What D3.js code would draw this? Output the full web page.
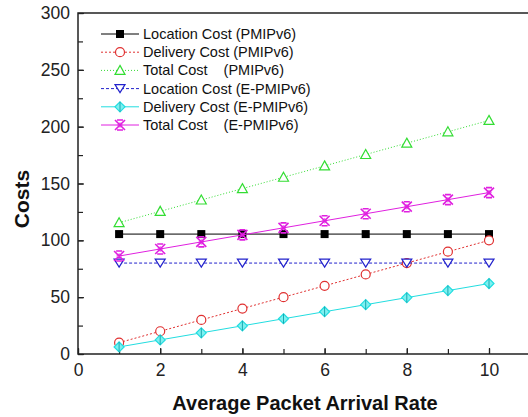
<!DOCTYPE html>
<html>
<head>
<meta charset="utf-8">
<script src="https://cdn.jsdelivr.net/npm/d3@7"></script>
<style>
  body { margin: 0; background: #fff; overflow: hidden; }
  text { font-family: Arial, "Liberation Sans", sans-serif; }
</style>
</head>
<body>
<div id="chart"></div>
<script>
const rates = [1, 2, 3, 4, 5, 6, 7, 8, 9, 10];
const locPMIP = [105.5, 105.5, 105.5, 105.5, 105.5, 105.5, 105.5, 105.5, 105.5, 105.5];
const delPMIP = [10, 20, 30, 40, 50, 60, 70, 80, 90, 100];
const totPMIP = [115.5, 125.5, 135.5, 145.5, 155.5, 165.5, 175.5, 185.5, 195.5, 205.5];
const locEPMIP = [80, 80, 80, 80, 80, 80, 80, 80, 80, 80];
const delEPMIP = [6.2, 12.4, 18.6, 24.8, 31, 37.2, 43.4, 49.6, 55.8, 62];
const totEPMIP = [86.2, 92.4, 98.6, 104.8, 111, 117.2, 123.4, 129.6, 135.8, 142];
const seriesNames = [
  "Location Cost (PMIPv6)",
  "Delivery Cost (PMIPv6)",
  "Total Cost    (PMIPv6)",
  "Location Cost (E-PMIPv6)",
  "Delivery Cost (E-PMIPv6)",
  "Total Cost    (E-PMIPv6)"
];
const xTicks = [0, 2, 4, 6, 8, 10];
const yTicks = [0, 50, 100, 150, 200, 250, 300];

const series = [
  { name: seriesNames[0], values: locPMIP, color: "#000", dash: null, marker: "square" },
  { name: seriesNames[1], values: delPMIP, color: "#e03030", dash: "2,2", marker: "circle" },
  { name: seriesNames[2], values: totPMIP, color: "#33dd33", dash: "1,2", marker: "triangle" },
  { name: seriesNames[3], values: locEPMIP, color: "#2222cc", dash: "3,2", marker: "down" },
  { name: seriesNames[4], values: delEPMIP, color: "#22dde0", dash: null, marker: "diamond" },
  { name: seriesNames[5], values: totEPMIP, color: "#e020e0", dash: null, marker: "xbox" }
];

const W = 528, H = 417;
const margin = { top: 13, left: 78 };
const unit = 41.1;            // px per x unit
const plotW = unit * 12, plotH = 341;   // right edge falls outside the window

const svg = d3.select("#chart").append("svg")
  .attr("width", W).attr("height", H);
const g = svg.append("g").attr("transform", `translate(${margin.left},${margin.top})`);

const x = d3.scaleLinear().domain([0, 12]).range([0, plotW]);
const y = d3.scaleLinear().domain([0, 300]).range([plotH, 0]);

const font = "Arial, 'Liberation Sans', sans-serif";

// ticks (inward)
g.append("g").attr("transform", `translate(0,${plotH})`)
  .call(d3.axisBottom(x).tickValues(d3.range(0, 11, 1)).tickSize(-5).tickFormat(""))
  .call(a => a.select(".domain").remove());
g.append("g").attr("transform", `translate(0,${plotH})`)
  .call(d3.axisBottom(x).tickValues(xTicks).tickSize(-6).tickPadding(10))
  .call(a => a.select(".domain").remove())
  .call(a => a.selectAll("text").attr("font-size", 17.5).attr("fill", "#222").attr("font-family", font));
g.append("g")
  .call(d3.axisLeft(y).tickValues(d3.range(0, 301, 25)).tickSize(-5).tickFormat(""))
  .call(a => a.select(".domain").remove());
g.append("g")
  .call(d3.axisLeft(y).tickValues(yTicks).tickSize(-6).tickPadding(8))
  .call(a => a.select(".domain").remove())
  .call(a => a.selectAll("text").attr("font-size", 17.5).attr("fill", "#222").attr("font-family", font));
g.selectAll(".tick line").attr("stroke", "#222").attr("stroke-width", 1.2);

// frame: left, top and bottom only (right side is cut off in the original)
g.append("path")
  .attr("d", `M${plotW},0H0V${plotH}H${plotW}`)
  .attr("fill", "none").attr("stroke", "#222").attr("stroke-width", 1.5);

function drawMarker(sel, type, color) {
  const r = 4;
  if (type === "square") {
    sel.append("rect").attr("x", -r).attr("y", -r).attr("width", 2 * r).attr("height", 2 * r).attr("fill", "#000");
  } else if (type === "circle") {
    sel.append("circle").attr("r", r + 0.5).attr("fill", "#fff").attr("stroke", color).attr("stroke-width", 1.2);
  } else if (type === "triangle") {
    sel.append("path").attr("d", "M0,-5L5,4L-5,4Z").attr("fill", "#fff").attr("stroke", color).attr("stroke-width", 1.2);
  } else if (type === "down") {
    sel.append("path").attr("d", "M0,4L5,-4L-5,-4Z").attr("fill", "#fff").attr("stroke", color).attr("stroke-width", 1.2);
  } else if (type === "diamond") {
    sel.append("path").attr("d", "M0,-5L5,0L0,5L-5,0Z").attr("fill", "#7ef0f0").attr("stroke", color).attr("stroke-width", 1.2);
    sel.append("path").attr("d", "M0,-5L0,5").attr("stroke", "#1aa8b0").attr("stroke-width", 1);
  } else if (type === "xbox") {
    sel.append("path").attr("d", "M-5,-5L5,5M5,-5L-5,5M-3,-5L3,-5M-3,5L3,5").attr("stroke", color).attr("stroke-width", 1.6).attr("fill", "none");
    sel.append("path").attr("d", "M0,-3L3,0L0,3L-3,0Z").attr("fill", color).attr("opacity", 0.6);
  }
}

const line = d3.line().x((d, i) => x(rates[i])).y(d => y(d));

series.forEach(s => {
  g.append("path").datum(s.values)
    .attr("d", line).attr("fill", "none")
    .attr("stroke", s.color).attr("stroke-width", 1)
    .attr("stroke-dasharray", s.dash);
  s.values.forEach((v, i) => {
    const m = g.append("g").attr("transform", `translate(${x(rates[i])},${y(v)})`);
    drawMarker(m, s.marker, s.color);
  });
});

// legend
const legend = svg.append("g").attr("transform", "translate(101,34)");
series.forEach((s, i) => {
  const row = legend.append("g").attr("transform", `translate(0,${i * 18.2})`);
  row.append("line").attr("x1", 0).attr("x2", 38).attr("y1", 0).attr("y2", 0)
    .attr("stroke", s.color).attr("stroke-width", 1).attr("stroke-dasharray", s.dash);
  const m = row.append("g").attr("transform", "translate(19,0)");
  drawMarker(m, s.marker, s.color);
  row.append("text").attr("x", 42).attr("y", 5)
    .attr("font-size", 14.5).attr("fill", "#111")
    .style("white-space", "pre")
    .text(s.name);
});

// axis titles
svg.append("text")
  .attr("x", 305).attr("y", 410)
  .attr("text-anchor", "middle").attr("font-size", 20).attr("font-weight", "bold")
  .attr("fill", "#111")
  .text("Average Packet Arrival Rate");
svg.append("text")
  .attr("transform", "translate(29,199) rotate(-90)")
  .attr("text-anchor", "middle").attr("font-size", 21).attr("font-weight", "bold")
  .attr("fill", "#111")
  .text("Costs");
</script>
</body>
</html>
